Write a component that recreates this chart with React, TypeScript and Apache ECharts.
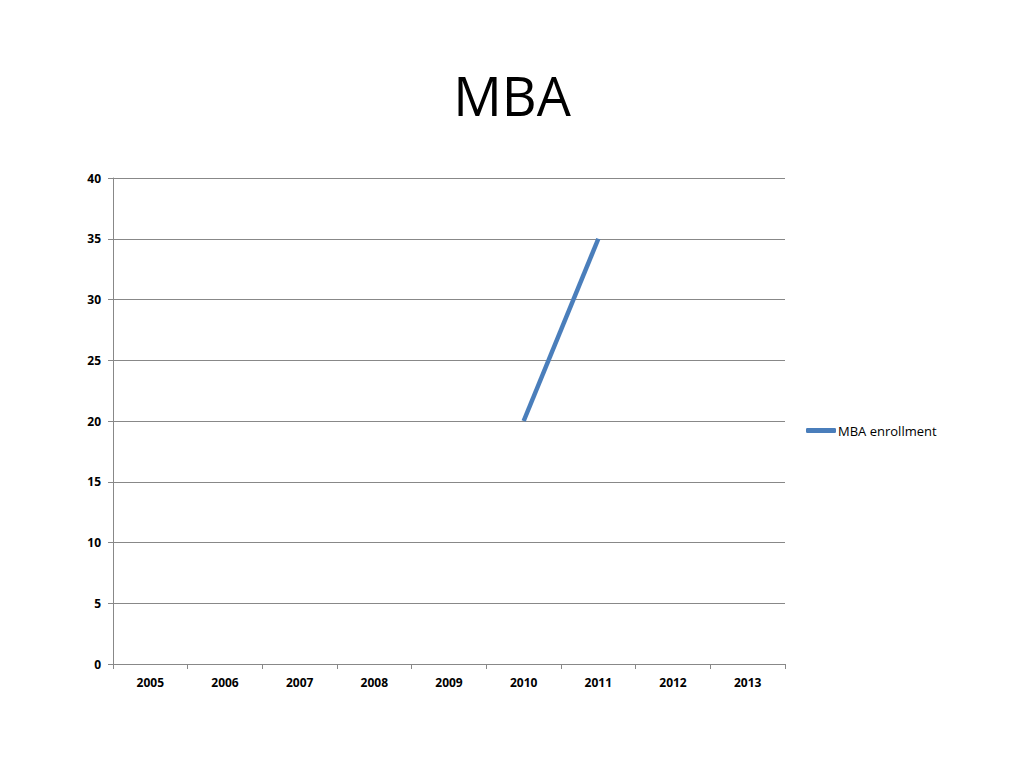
import React, { useEffect, useRef } from "react";
import * as echarts from "echarts";

const years = ["2005", "2006", "2007", "2008", "2009", "2010", "2011", "2012", "2013"];
const enrollment: (number | null)[] = [null, null, null, null, null, 20, 35, null, null];
const seriesName = "MBA enrollment";
const titleText = "MBA";

export default function App() {
  const ref = useRef<HTMLDivElement>(null);
  useEffect(() => {
    if (!ref.current) return;
    const chart = echarts.init(ref.current, null, { renderer: "svg" });
    chart.setOption({
      animation: false,
      backgroundColor: "#ffffff",
      title: {
        text: titleText,
        left: "center",
        top: 63,
        textStyle: { fontFamily: "Open Sans", fontSize: 54, fontWeight: "normal", color: "#000" },
      },
      legend: {
        data: [{ name: seriesName, icon: "roundRect" }],
        left: 801,
        top: 419,
        itemWidth: 30,
        itemHeight: 5,
        itemGap: 2,
        textStyle: { fontFamily: "Open Sans", fontSize: 13, color: "#000", padding: [0, 0, 0, -3] },
      },
      grid: { left: 113, right: 239, top: 178, bottom: 104, containLabel: false },
      xAxis: {
        type: "category",
        data: years,
        boundaryGap: true,
        axisLine: { lineStyle: { color: "#888", width: 1 } },
        axisTick: { show: true, length: 5, lineStyle: { color: "#888" } },
        axisLabel: { fontFamily: "Open Sans", fontWeight: "bold", fontSize: 12, color: "#000", margin: 12 },
        splitLine: { show: false },
      },
      yAxis: {
        type: "value",
        min: 0,
        max: 40,
        interval: 5,
        axisLine: { show: true, lineStyle: { color: "#888", width: 1 } },
        axisTick: { show: true, length: 5, lineStyle: { color: "#888" } },
        axisLabel: { fontFamily: "Open Sans", fontWeight: "bold", fontSize: 12, color: "#000", margin: 12 },
        splitLine: { show: true, lineStyle: { color: "#888", width: 1 } },
      },
      series: [
        {
          name: seriesName,
          type: "line",
          data: enrollment,
          showSymbol: false,
          symbol: "none",
          color: "#4a7ebb",
          lineStyle: { color: "#4a7ebb", width: 4.5 },
        },
      ],
    });
    return () => chart.dispose();
  }, []);
  return (
    <div
      ref={ref}
      style={{ position: "fixed", left: 0, top: 0, width: 1024, height: 768 }}
    />
  );
}
